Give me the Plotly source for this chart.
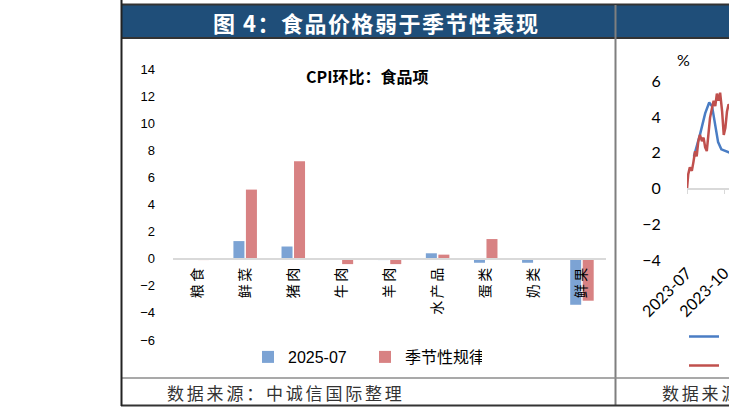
import plotly.graph_objects as go

W, H = 729, 413

# left chart: CPI m/m, food items
categories = ["粮食", "鲜菜", "猪肉", "牛肉", "羊肉", "水产品", "蛋类", "奶类", "鲜果"]
jul_2025 = [0.0, 1.3, 0.9, 0.0, -0.1, 0.4, -0.3, -0.3, -3.4]
seasonal = [-0.1, 5.1, 7.2, -0.4, -0.4, 0.3, 1.45, 0.05, -3.1]
y_ticks = [-6, -4, -2, 0, 2, 4, 6, 8, 10, 12, 14]

# right chart (only its left edge is in view)
blue_dates = ["2023-07-18", "2023-08-02", "2023-08-15", "2023-08-25", "2023-09-01",
              "2023-09-09", "2023-09-16", "2023-09-24", "2023-10-04", "2023-10-16",
              "2023-10-31"]
blue_vals = [1.8, 3.0, 4.2, 4.8, 4.6, 3.6, 2.6, 2.2, 2.1, 2.0, 2.0]
red_dates = ["2023-07-01", "2023-07-04", "2023-07-08", "2023-07-13", "2023-07-17",
             "2023-07-21", "2023-07-25", "2023-07-29", "2023-08-02", "2023-08-07",
             "2023-08-11", "2023-08-15", "2023-08-19", "2023-08-23", "2023-08-27",
             "2023-09-01", "2023-09-05", "2023-09-09", "2023-09-13", "2023-09-17",
             "2023-09-21", "2023-09-26", "2023-09-30", "2023-10-04", "2023-10-08",
             "2023-10-12", "2023-10-16", "2023-10-29"]
red_vals = [0.0, 0.8, 1.2, 1.0, 1.5, 2.1, 1.8, 2.65, 3.0, 2.65,
            2.85, 2.3, 2.1, 3.2, 3.95, 4.5, 4.9, 4.6, 5.3, 4.9,
            5.35, 4.3, 3.0, 3.4, 4.3, 4.7, 4.5, 4.0]

CJK = "Noto Sans CJK SC"
LAT = "Liberation Sans, Noto Sans CJK SC"


def fx(x):
    return x / W


def fy(y):
    return 1 - y / H


def spaced(text, px):
    return f'<span style="letter-spacing:{px}px">{text}</span>'


# domains in paper units (margins are zero, so paper == pixels)
lx = [fx(173), fx(606)]
ly = [fy(340), fy(69)]
l_zero = ly[0] + 6 / 20 * (ly[1] - ly[0])
rx = [fx(687), 1.0]
ry = [fy(260.7), fy(81)]
r_zero = ry[0] + 4 / 10 * (ry[1] - ry[0])

fig = go.Figure()
fig.add_trace(go.Bar(x=categories, y=jul_2025, name="2025-07",
                     marker=dict(color="#7CA3D4", line_width=0)))
fig.add_trace(go.Bar(x=categories, y=seasonal, name="季节性规律",
                     marker=dict(color="#D88283", line_width=0)))
# legend names of the right chart fall outside the crop
fig.add_trace(go.Scatter(x=blue_dates, y=blue_vals, mode="lines", name="\u00a0\u00a0\u00a0同比",
                         line=dict(color="#4A7DC4", width=2.5),
                         xaxis="x2", yaxis="y2", legend="legend2"))
fig.add_trace(go.Scatter(x=red_dates, y=red_vals, mode="lines", name="\u00a0\u00a0\u00a0价格",
                         line=dict(color="#C0504D", width=2.5),
                         xaxis="x2", yaxis="y2", legend="legend2"))

shapes = []


def hline(y, x0, x1, color, width):
    shapes.append(dict(type="line", xref="paper", yref="paper", x0=fx(x0), x1=fx(x1),
                       y0=fy(y), y1=fy(y), line=dict(color=color, width=width)))


def vline(x, y0, y1, color, width):
    shapes.append(dict(type="line", xref="paper", yref="paper", x0=fx(x), x1=fx(x),
                       y0=fy(y0), y1=fy(y1), line=dict(color=color, width=width)))


shapes.append(dict(type="rect", xref="paper", yref="paper", x0=fx(121), x1=1,
                   y0=fy(37.5), y1=fy(4.5), fillcolor="#1F4E79", line_width=0,
                   layer="below"))
hline(4.5, 121, 729, "#333333", 2)
hline(38, 121, 729, "#333333", 2)
vline(615.5, 5, 406, "#7F7F7F", 2)
hline(378, 121, 729, "#8C8C8C", 1.5)
hline(405.5, 121, 729, "#333333", 2)
vline(121.5, 0, 406, "#222222", 2)

annotations = [
    dict(text="<b>" + spaced("图 4：食品价格弱于季节性表现", 1.5) + "</b>", x=fx(376), y=fy(22),
         font=dict(family=CJK, size=22, color="white")),
    dict(text="<b>CPI环比：食品项</b>", x=fx(367), y=fy(76),
         font=dict(family=CJK, size=16, color="#000000")),
    dict(text=spaced("数据来源：中诚信国际整理", 2.8), x=fx(165), y=fy(392), xanchor="left",
         font=dict(family=CJK, size=17, color="#333333")),
    dict(text=spaced("数据来源：", 2.8), x=fx(660), y=fy(392), xanchor="left",
         font=dict(family=CJK, size=17, color="#333333")),
    dict(text="%", x=fx(683), y=fy(60),
         font=dict(family="Lato", size=16, color="#000000")),
]
for a in annotations:
    a.setdefault("xanchor", "center")
    a.update(xref="paper", yref="paper", yanchor="middle", showarrow=False)

fig.update_layout(
    width=W, height=H,
    margin=dict(l=0, r=0, t=0, b=0, autoexpand=False),
    paper_bgcolor="white", plot_bgcolor="rgba(0,0,0,0)",
    template="none",
    barmode="group", bargap=0.48, bargroupgap=0.12,
    shapes=shapes, annotations=annotations,
    xaxis=dict(domain=lx, anchor="free", position=l_zero, type="category",
               tickvals=categories, ticktext=[spaced(c, 2.5) for c in categories],
               showline=True, linecolor="#D9D9D9", linewidth=2, ticks="",
               showgrid=False, tickangle=-90, automargin=False,
               tickfont=dict(family=CJK, size=14, color="#000000")),
    yaxis=dict(domain=ly, range=[-6, 14], tickvals=y_ticks, showgrid=False,
               zeroline=False, showline=False, ticks="", automargin=False,
               ticklabelstandoff=17,
               tickfont=dict(family=LAT, size=13, color="#000000")),
    xaxis2=dict(domain=rx, anchor="free", position=r_zero, type="date",
                range=["2023-07-01", "2023-10-13"], tick0="2023-07-01", dtick="M3",
                tickformat="%Y-%m", tickangle=-45, showgrid=False,
                showline=True, linecolor="#D9D9D9", linewidth=1.5,
                ticks="outside", ticklen=4, tickcolor="#D9D9D9",
                ticklabelstandoff=64, ticklabeloverflow="allow", automargin=False,
                tickfont=dict(family="Lato", size=16, color="#000000")),
    yaxis2=dict(domain=ry, anchor="x2", range=[-4, 6], dtick=2, showgrid=False,
                zeroline=False, showline=False, automargin=False,
                ticks="outside", ticklen=22, tickcolor="rgba(0,0,0,0)",
                tickfont=dict(family="Lato", size=16, color="#000000")),
    legend=dict(orientation="h", x=fx(248), xanchor="left", y=fy(357), yanchor="middle",
                font=dict(family=LAT, size=16, color="#000000"), itemwidth=30,
                entrywidth=72, bgcolor="rgba(0,0,0,0)"),
    legend2=dict(orientation="v", x=fx(684), xanchor="left", y=fy(317), yanchor="top",
                 font=dict(family=CJK, size=20, color="#000000"),
                 bgcolor="rgba(0,0,0,0)"),
)

fig.write_html("out.html", config={"displayModeBar": False},
               post_script="document.body.style.margin = '0';")
